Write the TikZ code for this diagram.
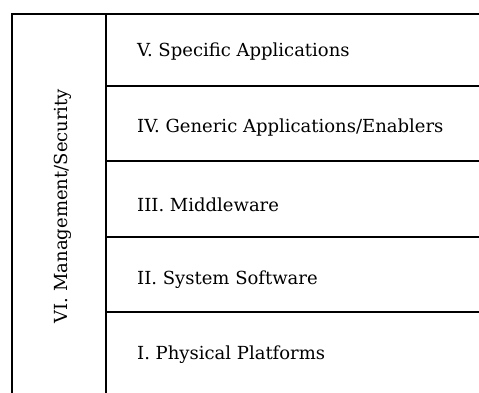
\documentclass[tikz,border=0pt]{standalone}
\usepackage{fontspec}
\setmainfont{DejaVu Serif}
\usetikzlibrary{positioning}
\tikzstyle{layer} = [anchor=west, font=\fontsize{18}{20}\selectfont, inner sep=0pt]
\tikzstyle{rule} = [draw, line width=1.9pt]

\begin{document}
\begin{tikzpicture}[x=1pt, y=-1pt]
	% Frame
	\useasboundingbox (0,0) rectangle (479,393);
	\coordinate (tl) at (12,14);
	\coordinate (tm) at (106,14);
	\coordinate (tr) at (479,14);
	\path [rule] (12,393) -- (tl) -- (tr);
	\path [rule] (tm) -- (106,393);
	\foreach \y in {86,161,237,312}
		\path [rule] (106,\y) -- (479,\y);
	% Place labels
	\node [layer] (spec) at (137,52) {V. Specific Applications};
	\node [layer] (gen) at (137,128) {IV. Generic Applications/Enablers};
	\node [layer] (mid) at (137,205) {III. Middleware};
	\node [layer] (sys) at (137,280) {II. System Software};
	\node [layer] (phys) at (137,355) {I. Physical Platforms};
	\node [layer, anchor=center, rotate=90] (mgmt) at (63,206) {VI. Management/Security};
\end{tikzpicture}
\end{document}
